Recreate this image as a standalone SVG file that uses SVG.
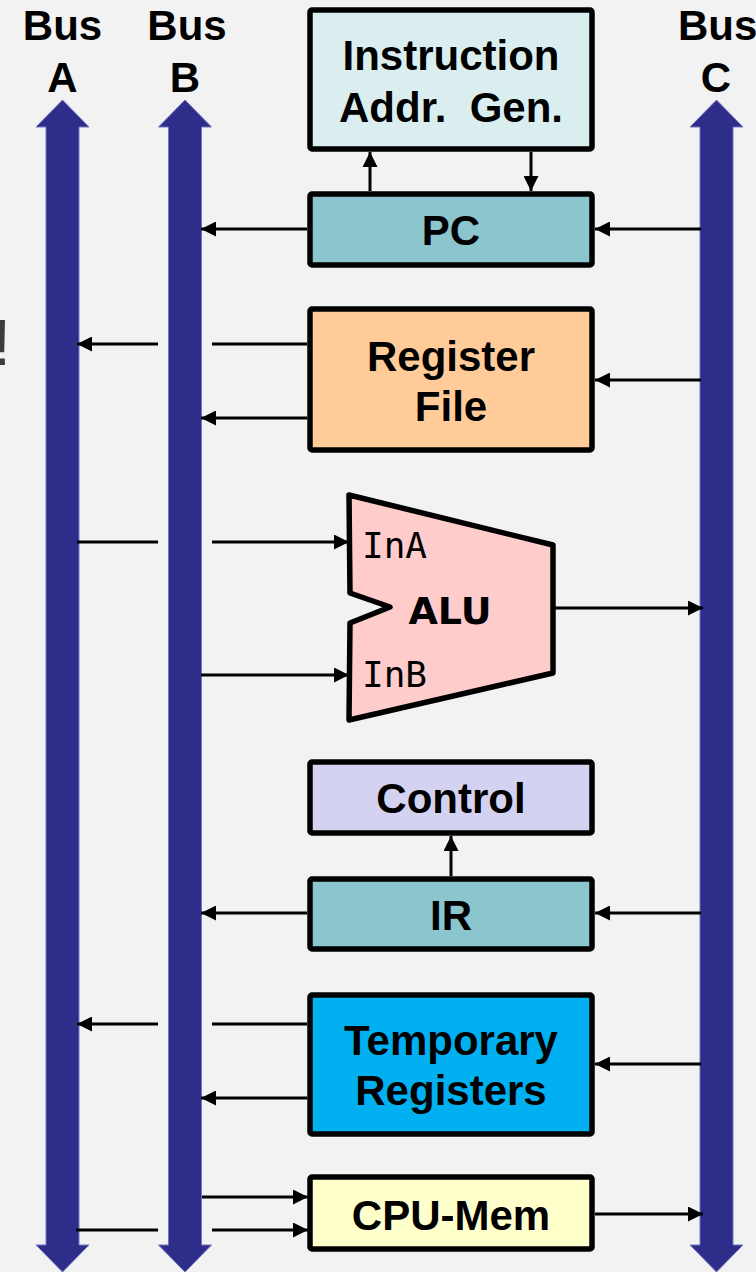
<svg xmlns="http://www.w3.org/2000/svg" width="756" height="1272" viewBox="0 0 756 1272">
<defs>
<marker id="ah" markerUnits="userSpaceOnUse" markerWidth="15" markerHeight="15" refX="15" refY="7.5" orient="auto">
<path d="M0,0 L15,7.5 L0,15 Z" fill="#000"/>
</marker>
</defs>
<style>
.bus{fill:#2E2E8A;stroke:#7272C2;stroke-width:1}
.box{stroke:#000;stroke-width:5.5}
.t{font-family:"Liberation Sans",Arial,sans-serif;font-weight:bold;font-size:42px;fill:#000;text-anchor:middle}
.mono{font-family:"DejaVu Sans Mono","Liberation Mono",monospace;font-size:36px;fill:#000}
.c{stroke:#000;stroke-width:3;fill:none}
.ca{stroke:#000;stroke-width:3;fill:none;marker-end:url(#ah)}
</style>
<rect x="0" y="0" width="756" height="1272" fill="#F2F2F2"/>
<text x="-7" y="365" font-family="Liberation Sans,Arial,sans-serif" font-size="64" fill="#3C3C3C">!</text>

<g id="busA">
<path class="bus" d="M62.5,100 L89,127 L79,127 L79,1245 L89,1245 L62.5,1272 L36,1245 L46,1245 L46,127 L36,127 Z"/>
<text class="t" x="62.5" y="40">Bus</text>
<text class="t" x="62.5" y="92">A</text>
</g>
<g id="busB">
<path class="bus" d="M185,100 L211.5,127 L201.5,127 L201.5,1245 L211.5,1245 L185,1272 L158.5,1245 L168.5,1245 L168.5,127 L158.5,127 Z"/>
<text class="t" x="187" y="40">Bus</text>
<text class="t" x="185" y="92">B</text>
</g>
<g id="busC">
<path class="bus" d="M716.5,100 L743,127 L733,127 L733,1245 L743,1245 L716.5,1272 L690,1245 L700,1245 L700,127 L690,127 Z"/>
<text x="678" y="40" font-family="Liberation Sans,Arial,sans-serif" font-weight="bold" font-size="42">Bus</text>
<text class="t" x="716" y="92">C</text>
</g>

<g id="iag">
<rect class="box" x="310" y="10" width="282" height="139" rx="2" fill="#DAEEF0"/>
<text class="t" x="451" y="70">Instruction</text>
<text class="t" x="451" y="122" xml:space="preserve">Addr.  Gen.</text>
</g>
<g id="pc">
<rect class="box" x="310" y="194" width="282" height="71" rx="2" fill="#8BC5CD"/>
<text class="t" x="451" y="245">PC</text>
</g>
<g id="regfile">
<rect class="box" x="310" y="309" width="282" height="141" rx="2" fill="#FFCC99"/>
<text class="t" x="451" y="371">Register</text>
<text class="t" x="451" y="421">File</text>
</g>
<g id="alu">
<path d="M349,495 L553,545 L553,673 L349,720 L350,623 L390,607 L350,593 Z" fill="#FFCCCC" stroke="#000" stroke-width="5.5" stroke-linejoin="round"/>
<text class="mono" x="362" y="558">InA</text>
<text class="mono" x="362" y="687">InB</text>
<text x="450" y="624" font-family="DejaVu Sans,Verdana,sans-serif" font-weight="bold" font-size="38" text-anchor="middle">ALU</text>
</g>
<g id="control">
<rect class="box" x="310" y="762" width="282" height="71" rx="2" fill="#D3D3F1"/>
<text class="t" x="451" y="813">Control</text>
</g>
<g id="ir">
<rect class="box" x="310" y="879" width="282" height="70" rx="2" fill="#8BC5CD"/>
<text class="t" x="451" y="930">IR</text>
</g>
<g id="temp">
<rect class="box" x="310" y="995" width="282" height="139" rx="2" fill="#00B0F0"/>
<text class="t" x="451" y="1055">Temporary</text>
<text class="t" x="451" y="1105">Registers</text>
</g>
<g id="cpumem">
<rect class="box" x="310" y="1177" width="282" height="72" rx="2" fill="#FFFFCC"/>
<text class="t" x="451" y="1230">CPU-Mem</text>
</g>

<g id="connectors">
<line class="ca" x1="370" y1="191" x2="370" y2="152"/>
<line class="ca" x1="531" y1="152" x2="531" y2="191"/>
<line class="ca" x1="307" y1="229" x2="201" y2="229"/>
<line class="ca" x1="701" y1="229" x2="595" y2="229"/>
<line class="c" x1="307" y1="344" x2="212" y2="344"/>
<line class="ca" x1="158" y1="344" x2="77" y2="344"/>
<line class="ca" x1="307" y1="418" x2="201" y2="418"/>
<line class="ca" x1="701" y1="380" x2="595" y2="380"/>
<line class="c" x1="77" y1="542" x2="158" y2="542"/>
<line class="ca" x1="212" y1="542" x2="349" y2="542"/>
<line class="ca" x1="201" y1="675" x2="349" y2="675"/>
<line class="ca" x1="555" y1="608" x2="703" y2="608"/>
<line class="ca" x1="451" y1="876" x2="451" y2="836"/>
<line class="ca" x1="307" y1="913" x2="201" y2="913"/>
<line class="ca" x1="701" y1="913" x2="595" y2="913"/>
<line class="c" x1="307" y1="1024" x2="212" y2="1024"/>
<line class="ca" x1="158" y1="1024" x2="77" y2="1024"/>
<line class="ca" x1="307" y1="1098" x2="201" y2="1098"/>
<line class="ca" x1="701" y1="1064" x2="595" y2="1064"/>
<line class="ca" x1="202" y1="1197" x2="308" y2="1197"/>
<line class="c" x1="76" y1="1230" x2="158" y2="1230"/>
<line class="ca" x1="212" y1="1230" x2="308" y2="1230"/>
<line class="ca" x1="595" y1="1214" x2="703" y2="1214"/>
</g>
</svg>
